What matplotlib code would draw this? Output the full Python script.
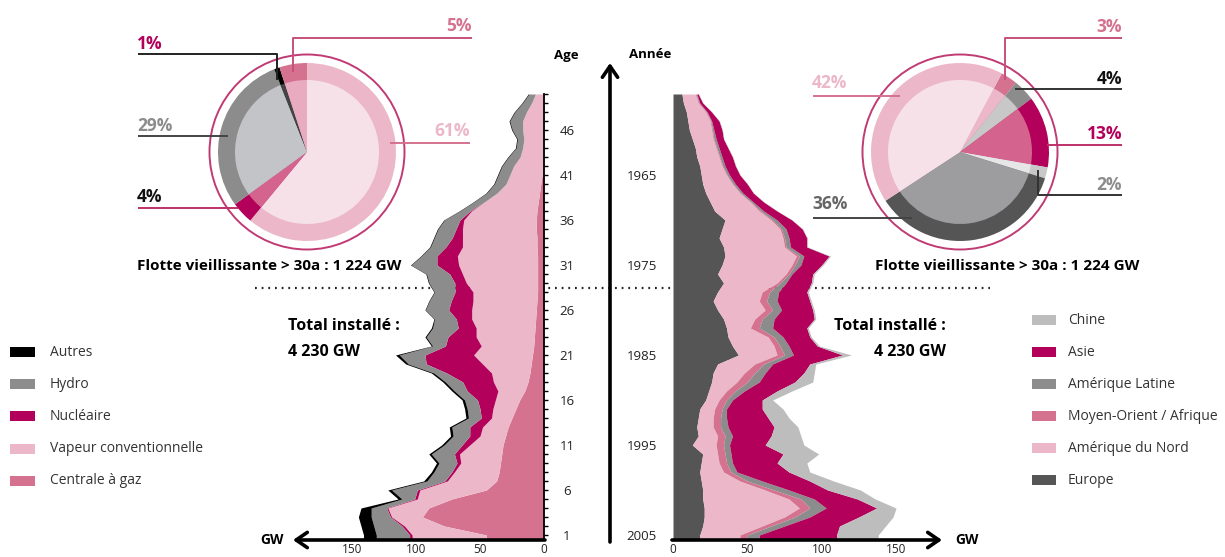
import numpy as np
import matplotlib
matplotlib.use("Agg")
import matplotlib.pyplot as plt
from matplotlib.patches import Rectangle, Circle

plt.rcParams['font.family'] = ['Open Sans', 'DejaVu Sans']

# ---------------- data ----------------
ages = np.arange(1, 51)
# left: capacity (GW) by age of plant, ages 1..50
gaz = [45, 78, 95, 90, 72, 45, 37, 35, 34, 33, 32, 30, 28, 25, 22, 19, 15, 12.5, 11, 10,
       9, 8, 7.5, 7, 6.5, 6, 5.5, 5, 5, 5, 5, 5, 5.5, 5.5, 6, 6, 5.5, 4.5, 3.5, 2.5,
       1.5, 1, 0.5, 0.5, 0.5, 0.5, 0.5, 0.5, 0.5, 0.5]
vapeur = [58, 31, 24, 32, 27, 52, 38.5, 35, 31, 33, 26, 20, 20, 16, 18, 19, 21, 27, 30, 38,
          46, 41, 45.5, 46, 50, 50.5, 50, 50.5, 55.7, 58.7, 61.7, 62.7, 58.2, 58.2, 57.7, 56.7, 51.2, 42.2, 33.2, 27.2,
          25.2, 22.7, 18.2, 16.2, 15.2, 16.2, 16.2, 13.2, 9.2, 6.2]
nucleaire = [2, 2, 1, 1, 2, 2, 2, 2, 3, 4, 6, 8, 10, 8, 10, 14, 24, 24, 35, 44,
             38, 28, 22, 14, 12, 18, 17, 14, 9, 10, 17, 16, 13, 8, 5, 3, 1, 0, 0, 0,
             0, 0, 0, 0, 0, 0, 0, 0, 0, 0]
hydro = [26, 22, 15, 12, 10, 20, 14, 14, 14, 18, 14, 13, 14, 10, 10, 10, 10, 13.5, 10, 14,
         20, 10, 17, 20, 17, 18, 17, 16, 20, 18, 20, 12, 12, 14, 14, 12, 8, 8, 8, 9,
         9, 9, 9, 5, 5, 8, 10, 9, 7, 5]
autres = [10, 10, 10, 8, 3, 3, 2.5, 2, 2, 2, 2, 2, 2, 2, 2, 2, 2, 2, 2, 2,
          3, 1, 1, 1, 0.5, 0.5, 0.5, 0.5, 0.6, 0.6, 0.6, 0.6, 0.6, 0.6, 0.6, 0.6, 0.6, 0.6, 0.6, 0.6,
          0.6, 0.6, 0.6, 0.6, 0.6, 0.6, 0.6, 0.6, 0.6, 0.6]

years = np.arange(1956, 2006)
europe = [6, 7, 9, 10, 11, 13, 15, 16, 18, 19, 20, 22, 25, 28, 35, 33, 31, 34, 35, 33,
          30, 34, 30, 27, 30, 34, 36, 37, 40, 44, 30, 27, 26, 24, 22, 18, 17, 16, 17, 13,
          20, 19, 18, 19, 20, 20, 21, 21, 20, 18]
am_nord = [9, 10, 13, 15, 15, 14, 14, 15, 15, 17, 20, 23, 27, 30, 31, 39, 43, 41, 48, 47,
           46, 36, 30, 31, 32, 21, 16, 27, 28, 26, 25, 21, 17, 12, 9, 10, 10, 11, 13, 16,
           10, 12, 16, 26, 42, 58, 64, 54, 40, 27]
moyen_orient = [.5] * 10 + [.5, .5, .5, 1, 1, 1, 1, 1, 2, 2,
                            2, 2, 5, 5, 5, 5, 6, 4, 4, 5, 6, 7, 7, 6, 5, 5, 5, 5, 5, 5,
                            5, 5, 5, 5, 6, 8, 7, 7, 6, 5]
am_latine = [.5, .5, .5, .5, 1, 1.5, 1.5, 1.5, 1.5, 1.5, 1.5, 1.5, 1.5, 2, 3, 3, 3, 3, 3, 4,
             2, 4, 6, 7, 6, 8, 9, 6, 6, 6, 6, 7, 8, 6, 4, 3, 4, 5, 5, 4,
             4, 4, 4, 10, 10, 9, 11, 10, 9, 8]
asie = [1, 2, 3, 5, 5.5, 5, 6, 7, 7, 7, 8, 7, 7, 9, 10, 11, 12, 11, 17, 14,
        14, 17, 19, 22, 21, 27, 23, 18, 19, 33, 25, 26, 24, 22, 20, 24, 28, 31, 26, 24,
        35, 30, 35, 32, 26, 29, 34, 33, 37, 52]
chine = [.3] * 10 + [.3, .3, .3, .3, .3, .3, .5, .5, 1, 1,
                     1, 1, 1, 1, 1, 1, 1, 1, 1.5, 6, 4, 7, 12, 10, 7, 14, 14, 16, 20, 26,
                     24, 20, 14, 16, 22, 12, 13, 23, 31, 28]

pie_left_labels = ['Vapeur conventionnelle', 'Nucléaire', 'Hydro', 'Autres', 'Centrale à gaz']
pie_left_values = [61, 4, 29, 1, 5]
pie_right_labels = ['Moyen-Orient / Afrique', 'Amérique Latine', 'Asie', 'Chine', 'Europe', 'Amérique du Nord']
pie_right_values = [3, 4, 13, 2, 36, 42]

age_ticks = np.arange(1, 50, 5)
year_ticks = [1965, 1975, 1985, 1995, 2005]
gw_ticks_left = [150, 100, 50, 0]
gw_ticks_right = [0, 50, 100, 150]

# ---------------- colours ----------------
C_BLACK = '#000000'
C_GRAY = '#8c8c8c'
C_MAG = '#b3005a'
C_LPINK = '#ebb7c9'
C_MPINK = '#d4728f'
C_LGRAY = '#bdbdbd'
C_DGRAY = '#555555'

W, H = 1225, 557
fig = plt.figure(figsize=(W / 100, H / 100), dpi=100)


def px_axes(x0, y0, x1, y1):
    return fig.add_axes([x0 / W, 1 - y1 / H, (x1 - x0) / W, (y1 - y0) / H])


# background axes (dotted line)
bg = fig.add_axes([0, 0, 1, 1])
bg.set_xlim(0, W); bg.set_ylim(H, 0); bg.axis('off')
bg.plot([255, 990], [288, 288], color='#222222', lw=1.6, linestyle=(0, (0.8, 2.2)), zorder=0)

# ---------------- left chart ----------------
axl = px_axes(295, 94, 544, 540)
axl.patch.set_alpha(0)
axl.set_xlim((544 - 295) / 1.28, 0)
axl.set_ylim(0.444, 50)
ypad = np.concatenate([[0.444], ages])
left_layers = [(gaz, C_MPINK), (vapeur, C_LPINK), (nucleaire, C_MAG), (hydro, C_GRAY), (autres, C_BLACK)]
base = np.zeros(len(ages))
for vals, col in left_layers:
    v = np.asarray(vals, float)
    top = base + v
    axl.fill_betweenx(ypad, np.r_[base[0], base], np.r_[top[0], top], color=col, lw=0)
    base = top
for s in ['left', 'top', 'bottom']:
    axl.spines[s].set_visible(False)
axl.spines['right'].set_linewidth(1.3)
axl.yaxis.tick_right()
axl.set_yticks(age_ticks)
axl.set_yticks(ages, minor=True)
axl.tick_params(axis='y', which='both', direction='out', length=3, width=1, pad=13.5,
                labelsize=9.5, labelcolor='#222222')
for lab in axl.get_yticklabels():
    lab.set_horizontalalignment('center')
axl.set_xticks(gw_ticks_left)
axl.tick_params(axis='x', length=0, pad=2.5, labelsize=8.5, labelcolor='#222222')

# ---------------- right chart ----------------
axr = px_axes(673, 94, 940, 540)
axr.patch.set_alpha(0)
axr.set_xlim(0, (940 - 673) / 1.487)
axr.set_ylim(2005.556, 1956)
ypr = np.concatenate([years, [2005.556]])
right_layers = [(europe, C_DGRAY), (am_nord, C_LPINK), (moyen_orient, C_MPINK),
                (am_latine, C_GRAY), (asie, C_MAG), (chine, C_LGRAY)]
base = np.zeros(len(years))
for vals, col in right_layers:
    v = np.asarray(vals, float)
    top = base + v
    axr.fill_betweenx(ypr, np.r_[base, base[-1]], np.r_[top, top[-1]], color=col, lw=0)
    base = top
for s in axr.spines.values():
    s.set_visible(False)
axr.set_yticks(year_ticks)
axr.tick_params(axis='y', length=0, pad=11.5, labelsize=9.5, labelcolor='#222222')
axr.set_xticks(gw_ticks_right)
axr.tick_params(axis='x', length=0, pad=2.5, labelsize=8.5, labelcolor='#222222')

# ---------------- pies ----------------
def draw_pie(cx, cy, values, ring_cols, inner_cols, start):
    ax = px_axes(cx - 100, cy - 100, cx + 100, cy + 100)
    ax.pie(values, radius=89, colors=ring_cols, startangle=start, counterclock=False,
           wedgeprops=dict(linewidth=0))
    ax.pie(values, radius=72, colors=inner_cols, startangle=start, counterclock=False,
           wedgeprops=dict(linewidth=0))
    ax.add_patch(Circle((0, 0), 97.5, fill=False, ec='#c03a74', lw=1.4))
    ax.set_xlim(-100, 100); ax.set_ylim(-100, 100)
    ax.set_aspect('equal'); ax.axis('off')
    return ax

draw_pie(307, 152, pie_left_values,
         [C_LPINK, C_MAG, C_GRAY, C_BLACK, C_MPINK],
         ['#f7e1e9', '#d4648e', '#c3c4c8', '#444444', '#e9abbf'], 90)
draw_pie(960, 152, pie_right_values,
         [C_MPINK, C_GRAY, C_MAG, '#c8c8c8', C_DGRAY, C_LPINK],
         ['#ebb7c9', '#c8c8c8', '#d4648e', '#e6e6e6', '#9d9d9f', '#f7e1e9'], 62)

# ---------------- overlay ----------------
ov = fig.add_axes([0, 0, 1, 1])
ov.set_xlim(0, W); ov.set_ylim(H, 0); ov.axis('off'); ov.patch.set_alpha(0)

arrow = dict(arrowstyle='->,head_length=0.8,head_width=0.55', lw=2.6, color='black',
             shrinkA=0, shrinkB=0)
ov.annotate('', xy=(293, 540), xytext=(545, 540), arrowprops=arrow)
ov.annotate('', xy=(942, 540), xytext=(672, 540), arrowprops=arrow)
ov.annotate('', xy=(610, 63), xytext=(610, 542), arrowprops=arrow)
ov.text(272, 540, 'GW', ha='center', va='center', fontsize=10, fontweight='bold')
ov.text(967, 540, 'GW', ha='center', va='center', fontsize=10, fontweight='bold')
ov.text(566, 55, 'Age', ha='center', va='center', fontsize=9.5, fontweight='bold')
ov.text(650, 55, 'Année', ha='center', va='center', fontsize=9.5, fontweight='bold')

ov.text(137, 266, 'Flotte vieillissante > 30a : 1 224 GW', ha='left', va='center',
        fontsize=11, fontweight='bold')
ov.text(875, 266, 'Flotte vieillissante > 30a : 1 224 GW', ha='left', va='center',
        fontsize=11, fontweight='bold')
ov.text(288, 326, 'Total installé :', ha='left', va='center', fontsize=11.5, fontweight='bold')
ov.text(288, 352, '4 230 GW', ha='left', va='center', fontsize=11.5, fontweight='bold')
ov.text(946, 326, 'Total installé :', ha='right', va='center', fontsize=11.5, fontweight='bold')
ov.text(946, 352, '4 230 GW', ha='right', va='center', fontsize=11.5, fontweight='bold')

# pie labels
def plabel(txt, tx, ty, ha, tcol, pts, lcol):
    ov.text(tx, ty, txt, ha=ha, va='center', fontsize=12.5, fontweight='bold', color=tcol)
    xs, ys = zip(*pts)
    ov.plot(xs, ys, color=lcol, lw=1.4, solid_capstyle='butt')

plabel('5%', 472, 26, 'right', C_MPINK, [(293, 72), (293, 38), (472, 38)], '#c8507a')
plabel('1%', 137, 44, 'left', C_MAG, [(138, 54), (277, 54), (277, 80)], '#222222')
plabel('29%', 137, 126, 'left', C_GRAY, [(138, 136), (228, 136)], '#444444')
plabel('4%', 137, 197, 'left', '#111111', [(138, 208), (238, 208)], '#c0306a')
plabel('61%', 470, 131, 'right', C_LPINK, [(390, 143), (470, 143)], C_MPINK)

plabel('3%', 1122, 27, 'right', C_MPINK, [(1005, 80), (1005, 38), (1122, 38)], '#c8507a')
plabel('4%', 1122, 79, 'right', '#111111', [(1015, 89), (1122, 89)], '#333333')
plabel('13%', 1122, 134, 'right', C_MAG, [(1047, 145), (1122, 145)], '#c0306a')
plabel('2%', 1122, 185, 'right', C_GRAY, [(1038, 170), (1038, 195), (1122, 195)], '#333333')
plabel('42%', 812, 83, 'left', C_LPINK, [(813, 96), (900, 96)], C_MPINK)
plabel('36%', 812, 204, 'left', '#666666', [(813, 218), (912, 218)], '#444444')

# legends
left_leg = [('Autres', C_BLACK), ('Hydro', C_GRAY), ('Nucléaire', C_MAG),
            ('Vapeur conventionnelle', C_LPINK), ('Centrale à gaz', C_MPINK)]
for i, (lab, col) in enumerate(left_leg):
    y = 352 + i * 32.2
    ov.add_patch(Rectangle((10, y - 5), 25, 10, color=col, lw=0))
    ov.text(50, y, lab, ha='left', va='center', fontsize=10, color='#333333')

right_leg = [('Chine', C_LGRAY), ('Asie', C_MAG), ('Amérique Latine', C_GRAY),
             ('Moyen-Orient / Afrique', C_MPINK), ('Amérique du Nord', C_LPINK), ('Europe', C_DGRAY)]
for i, (lab, col) in enumerate(right_leg):
    y = 320 + i * 32
    ov.add_patch(Rectangle((1032, y - 5), 24, 10, color=col, lw=0))
    ov.text(1068, y, lab, ha='left', va='center', fontsize=10, color='#333333')

fig.savefig('out.png', dpi=100)
